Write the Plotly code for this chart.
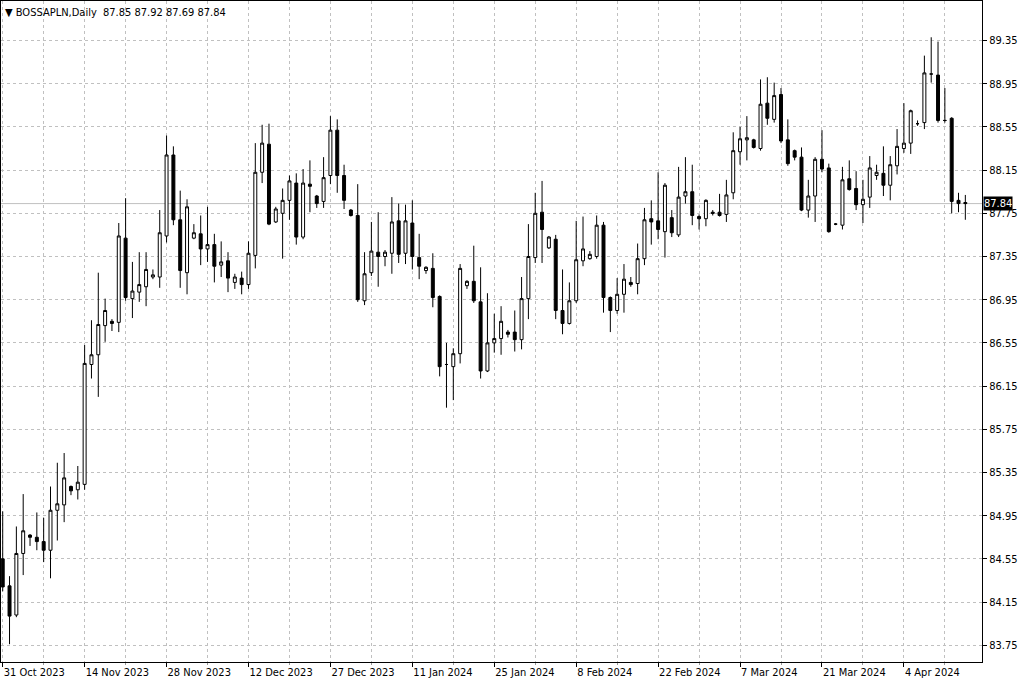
import plotly.graph_objects as go

symbol = "BOSSAPLN"
timeframe = "Daily"

opens = [84.55, 84.30, 84.03, 84.60, 84.77, 84.75, 84.71, 84.63, 85.00, 85.05,
         85.22, 85.19, 85.24, 86.35, 86.44, 86.71, 86.75, 86.74, 87.52, 86.96,
         87.02, 87.07, 87.16, 87.16, 87.54, 88.29, 87.69, 87.20, 87.52, 87.56,
         87.42, 87.46, 87.27, 87.31, 87.11, 87.15, 87.09, 87.36, 88.13, 88.39,
         87.67, 87.75, 87.87, 88.03, 87.53, 88.02, 87.91, 87.86, 88.10, 88.52,
         88.10, 87.78, 87.73, 86.94, 87.20, 87.39, 87.35, 87.38, 87.68, 87.38,
         87.66, 87.34, 87.22, 87.24, 86.98, 86.35, 86.33, 86.45, 87.08, 87.12,
         86.93, 86.29, 86.55, 86.59, 86.65, 86.65, 86.58, 86.96, 87.34, 87.76,
         87.43, 87.51, 86.85, 86.73, 86.94, 87.31, 87.33, 87.35, 87.64, 86.97,
         86.85, 87.00, 87.11, 87.10, 87.33, 87.70, 87.68, 87.58, 87.71, 87.55,
         87.91, 87.95, 87.72, 87.70, 87.76, 87.76, 87.74, 87.94, 88.32, 88.43,
         88.43, 88.35, 88.77, 88.62, 88.85, 88.43, 88.33, 88.27, 87.78, 87.91,
         88.25, 88.17, 87.65, 87.64, 88.07, 87.98, 87.83, 87.90, 88.10, 88.12,
         88.01, 88.19, 88.35, 88.40, 88.58, 88.59, 89.04, 89.03, 88.61, 88.63,
         87.87, 87.85]
highs = [84.99, 84.39, 84.85, 85.15, 84.78, 84.98, 84.93, 85.22, 85.44, 85.53,
         85.23, 85.41, 86.53, 86.76, 87.20, 86.96, 86.77, 87.66, 87.89, 87.30,
         87.39, 87.39, 87.23, 87.78, 88.47, 88.37, 87.96, 87.88, 87.65, 87.73,
         87.81, 87.56, 87.49, 87.39, 87.19, 87.21, 87.49, 88.40, 88.57, 88.58,
         87.81, 87.98, 88.10, 88.12, 88.16, 88.24, 87.92, 88.27, 88.65, 88.62,
         88.20, 87.79, 88.02, 87.39, 87.67, 87.76, 87.41, 87.90, 87.84, 87.83,
         87.87, 87.56, 87.26, 87.38, 86.99, 86.55, 86.50, 87.28, 87.13, 87.45,
         87.25, 87.01, 86.82, 86.89, 86.67, 86.85, 87.16, 87.65, 87.94, 88.05,
         87.54, 87.55, 87.23, 87.11, 87.68, 87.72, 87.40, 87.73, 87.67, 86.98,
         87.15, 87.28, 87.16, 87.47, 87.80, 87.87, 88.13, 88.03, 87.78, 88.18,
         88.27, 88.20, 87.74, 87.88, 87.78, 87.93, 88.06, 88.50, 88.55, 88.65,
         88.44, 88.99, 89.01, 88.96, 88.91, 88.62, 88.34, 88.36, 88.06, 88.27,
         88.52, 88.21, 87.66, 88.18, 88.24, 88.14, 88.06, 88.28, 88.20, 88.37,
         88.28, 88.53, 88.77, 88.71, 88.61, 89.21, 89.38, 89.34, 88.91, 88.64,
         87.94, 87.92]
lows = [84.25, 83.76, 84.01, 84.40, 84.67, 84.63, 84.52, 84.37, 84.72, 84.89,
        85.14, 85.10, 85.19, 86.22, 86.05, 86.56, 86.66, 86.65, 86.94, 86.78,
        86.93, 86.89, 87.14, 87.06, 87.48, 87.64, 87.06, 87.00, 87.51, 87.27,
        87.30, 87.11, 87.16, 87.02, 87.05, 87.00, 87.05, 87.24, 88.03, 87.64,
        87.66, 87.33, 87.69, 87.46, 87.51, 87.76, 87.80, 87.80, 88.02, 87.94,
        87.79, 87.72, 86.93, 86.90, 87.17, 87.07, 87.26, 87.19, 87.29, 87.28,
        87.23, 87.14, 87.19, 86.88, 86.24, 85.95, 86.02, 86.36, 87.05, 86.92,
        86.22, 86.28, 86.46, 86.44, 86.60, 86.47, 86.49, 86.77, 87.29, 87.29,
        87.42, 86.77, 86.63, 86.72, 86.92, 87.26, 87.32, 87.33, 86.83, 86.65,
        86.82, 86.83, 87.07, 87.00, 87.27, 87.46, 87.51, 87.34, 87.53, 87.53,
        87.84, 87.64, 87.60, 87.63, 87.73, 87.72, 87.67, 87.88, 88.20, 88.24,
        88.35, 88.33, 88.57, 88.59, 88.40, 88.19, 88.24, 87.77, 87.71, 87.67,
        88.13, 87.57, 87.64, 87.60, 87.96, 87.78, 87.66, 87.80, 88.06, 87.91,
        87.87, 88.11, 88.31, 88.30, 88.56, 88.53, 88.96, 88.59, 88.59, 87.75,
        87.76, 87.69]
closes = [84.29, 84.02, 84.60, 84.81, 84.75, 84.71, 84.63, 85.00, 85.06, 85.30,
          85.18, 85.26, 86.36, 86.44, 86.72, 86.85, 86.73, 87.54, 86.97, 87.03,
          87.09, 87.23, 87.18, 87.57, 88.29, 87.69, 87.22, 87.81, 87.57, 87.42,
          87.46, 87.26, 87.30, 87.15, 87.16, 87.09, 87.38, 88.13, 88.40, 87.65,
          87.79, 87.87, 88.05, 87.53, 88.03, 88.00, 87.84, 88.08, 88.52, 88.10,
          87.87, 87.73, 86.95, 87.19, 87.40, 87.35, 87.39, 87.67, 87.37, 87.68,
          87.35, 87.26, 87.25, 86.97, 86.33, 86.35, 86.45, 87.24, 87.12, 86.94,
          86.29, 86.55, 86.59, 86.75, 86.63, 86.58, 86.96, 87.35, 87.75, 87.60,
          87.53, 86.85, 86.73, 86.94, 87.32, 87.42, 87.37, 87.64, 86.97, 86.85,
          87.00, 87.14, 87.09, 87.33, 87.69, 87.67, 87.60, 88.01, 87.57, 87.90,
          87.95, 87.73, 87.70, 87.87, 87.75, 87.73, 87.92, 88.33, 88.44, 88.45,
          88.36, 88.76, 88.63, 88.84, 88.42, 88.21, 88.27, 87.78, 87.91, 88.25,
          88.16, 87.58, 87.65, 88.06, 87.97, 87.83, 87.88, 88.17, 88.13, 88.01,
          88.20, 88.37, 88.40, 88.70, 88.58, 89.05, 89.04, 88.61, 88.61, 87.86,
          87.84, 87.84]

date_labels = ["31 Oct 2023", "14 Nov 2023", "28 Nov 2023", "12 Dec 2023",
               "27 Dec 2023", "11 Jan 2024", "25 Jan 2024", "8 Feb 2024",
               "22 Feb 2024", "7 Mar 2024", "21 Mar 2024", "4 Apr 2024"]
label_step = 12
price_ticks = [83.75, 84.15, 84.55, 84.95, 85.35, 85.75, 86.15, 86.55,
               86.95, 87.35, 87.75, 88.15, 88.55, 88.95, 89.35]

n = len(opens)
idx = list(range(n))
label_pos = [i * label_step for i in range(len(date_labels))]
minor_pos = [p + label_step // 2 for p in label_pos]

FONT = "Tahoma, 'DejaVu Sans Condensed', 'Liberation Sans', sans-serif"
GRID = "#c0c0c0"

fig = go.Figure()
fig.add_trace(go.Candlestick(
    x=idx, open=opens, high=highs, low=lows, close=closes,
    increasing=dict(fillcolor="white", line=dict(color="black", width=1)),
    decreasing=dict(fillcolor="black", line=dict(color="black", width=1)),
    whiskerwidth=0, showlegend=False, hoverinfo="skip",
))

last = closes[-1]
fig.add_shape(type="line", xref="paper", x0=0, x1=1, yref="y", y0=last, y1=last,
              line=dict(color="#c0c0c0", width=1), layer="below")

fig.add_annotation(xref="paper", yref="y", x=1, y=last, xanchor="left",
                   yanchor="middle", xshift=1, text=f"{last:.2f}", showarrow=False,
                   bgcolor="black", font=dict(color="white", size=11, family=FONT),
                   borderpad=0)

fig.add_annotation(xref="paper", yref="paper", x=0, y=1, xanchor="left",
                   yanchor="top", xshift=2, yshift=-3,
                   text=f"\u25BC {symbol},{timeframe}  {opens[-1]:.2f} {highs[-1]:.2f} {lows[-1]:.2f} {closes[-1]:.2f}",
                   showarrow=False, font=dict(color="black", size=11, family=FONT))

fig.update_layout(
    width=1024, height=683,
    margin=dict(l=1, r=42, t=1, b=21),
    paper_bgcolor="white", plot_bgcolor="white",
    boxgap=0.38,
    font=dict(family=FONT, size=11, color="black"),
    xaxis=dict(
        range=[-0.25, 143.44], rangeslider=dict(visible=False),
        tickmode="array", tickvals=label_pos, ticktext=date_labels,
        ticks="outside", ticklen=4, tickcolor="black",
        ticklabelposition="outside right",
        showgrid=True, gridcolor=GRID, griddash="3px,3px", gridwidth=1,
        minor=dict(tickmode="array", tickvals=minor_pos, ticks="outside",
                   ticklen=2, tickcolor="#999999", showgrid=True,
                   gridcolor=GRID, griddash="3px,3px", gridwidth=1),
        showline=True, linecolor="black", linewidth=1, mirror=True,
        zeroline=False, fixedrange=True,
    ),
    yaxis=dict(
        range=[83.595, 89.716], side="right",
        tickmode="array", tickvals=price_ticks,
        ticktext=[f"{v:.2f}" for v in price_ticks],
        ticks="outside", ticklen=4, tickcolor="black",
        showgrid=True, gridcolor=GRID, griddash="3px,3px", gridwidth=1,
        showline=True, linecolor="black", linewidth=1, mirror=True,
        zeroline=False, fixedrange=True,
    ),
)

fig.write_html("out.html", config={"displayModeBar": False},
               post_script="document.body.style.margin='0';")
